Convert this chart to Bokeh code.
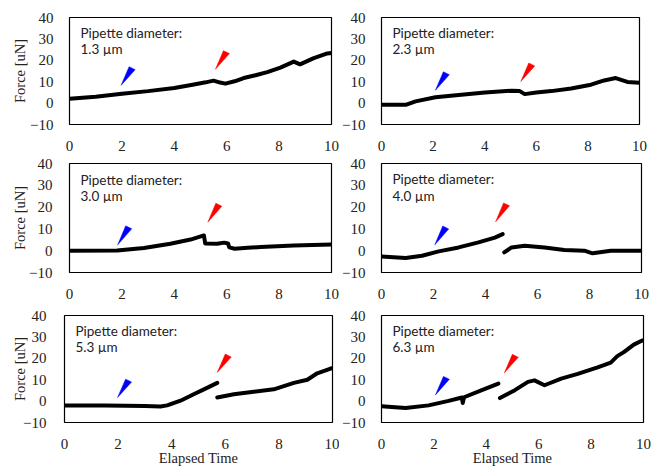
from bokeh.plotting import figure
from bokeh.models import Range1d, FixedTicker, Label
from bokeh.layouts import column, row
from bokeh.embed import file_html
from bokeh.resources import INLINE

# ---------------- data ----------------
diameters = ["1.3", "2.3", "3.0", "4.0", "5.3", "6.3"]
x_ticks = [0, 2, 4, 6, 8, 10]
y_ticks = [-10, 0, 10, 20, 30, 40]

# panel 1 (1.3 um)
t1 = [0, 1, 2, 3, 4, 4.75, 5.2, 5.5, 5.75, 5.95, 6.3, 6.65, 7.1, 7.55, 8.05, 8.56, 8.8, 9.3, 9.84, 10]
f1 = [2.0, 3.0, 4.4, 5.6, 7.1, 8.7, 9.7, 10.5, 9.6, 9.1, 10.2, 11.7, 13.0, 14.5, 16.6, 19.4, 18.1, 20.9, 23.2, 23.4]

# panel 2 (2.3 um)
t2 = [0, 0.94, 1.32, 2.09, 2.99, 4.01, 5.04, 5.36, 5.55, 6.0, 6.58, 7.35, 8.12, 8.63, 9.08, 9.53, 10]
f2 = [-0.8, -0.8, 0.8, 2.7, 3.8, 5.0, 5.8, 5.6, 4.2, 5.0, 5.6, 6.8, 8.6, 10.6, 11.7, 9.9, 9.5]

# panel 3 (3.0 um)
t3 = [0, 1.82, 2.84, 3.85, 4.62, 5.13, 5.18, 5.64, 5.9, 6.05, 6.1, 6.3, 6.8, 7.29, 8.56, 10]
f3 = [0.0, 0.1, 1.2, 3.2, 5.1, 7.0, 3.3, 3.2, 3.7, 3.3, 1.5, 0.9, 1.3, 1.7, 2.4, 2.8]

# panel 4 (4.0 um), two segments
t4a = [0, 0.93, 1.56, 2.2, 2.97, 3.73, 4.36, 4.66]
f4a = [-2.7, -3.3, -2.3, -0.3, 1.5, 3.8, 6.0, 7.6]
t4b = [4.72, 5.0, 5.51, 6.27, 7.03, 7.8, 8.12, 8.82, 9.96, 10]
f4b = [-0.8, 1.5, 2.3, 1.5, 0.3, 0.0, -1.2, 0.0, 0.0, 0.0]

# panel 5 (5.3 um), two segments
t5a = [0, 1.5, 3.0, 3.58, 3.83, 4.33, 4.82, 5.32, 5.7]
f5a = [-2.0, -2.0, -2.3, -2.5, -2.0, 0.2, 3.2, 6.2, 8.5]
t5b = [5.7, 6.32, 7.06, 7.81, 8.56, 9.06, 9.43, 9.93, 10]
f5b = [1.7, 3.2, 4.4, 5.5, 8.5, 10.0, 13.0, 15.2, 15.4]

# panel 6 (6.3 um), two segments
t6a = [0, 0.92, 1.8, 2.56, 3.07, 3.1, 3.15, 3.83, 4.46]
f6a = [-2.4, -3.2, -2.0, 0.1, 1.7, -0.9, 1.8, 5.1, 8.2]
t6b = [4.52, 5.09, 5.59, 5.84, 6.22, 6.86, 7.49, 8.25, 8.75, 9.0, 9.25, 9.63, 9.95, 10]
f6b = [1.4, 5.1, 9.0, 9.7, 7.4, 10.5, 12.7, 15.8, 18.0, 21.0, 22.9, 26.4, 28.3, 28.3]

segments = [
    [(t1, f1)],
    [(t2, f2)],
    [(t3, f3)],
    [(t4a, f4a), (t4b, f4b)],
    [(t5a, f5a), (t5b, f5b)],
    [(t6a, f6a), (t6b, f6b)],
]

# arrow tips (data coordinates)
blue_t = [1.97, 2.09, 1.84, 2.05, 1.98, 2.06]
blue_f = [8.3, 6.0, 2.7, 2.7, 1.7, 2.9]
red_t = [5.57, 5.40, 5.28, 4.39, 5.70, 4.69]
red_f = [15.8, 10.1, 13.1, 13.3, 13.4, 13.2]

# ---------------- layout (pixels) ----------------
# width, height, border left, right, top, bottom, ytick standoff, ylabel standoff
geo = [
    (339, 155, 69, 8, 15, 31, 10, -1),
    (322, 155, 40, 22, 17, 28, 10, 0),
    (339, 150, 69, 8, 8, 33, 11, -2),
    (322, 150, 40, 20, 7, 33, 10, 0),
    (339, 163, 64, 7, 10, 42, 12, -8),
    (322, 163, 40, 18, 10, 43, 10, 0),
]

SERIF = "Liberation Serif"
SANS = "Lato"
TXT = "#222222"

# arrow shape in screen pixels relative to tip (x right, y up)
ARROW = [(0, 0), (8, 19), (14, 16)]

figs = []
for i in range(6):
    w, h, bl, br, bt, bb, ystand, lstand = geo[i]
    fw = w - bl - br
    fh = h - bt - bb
    p = figure(width=w, height=h, output_backend="svg", toolbar_location=None,
               x_range=Range1d(0, 10), y_range=Range1d(-10, 40),
               min_border_left=bl, min_border_right=br,
               min_border_top=bt, min_border_bottom=bb)
    p.xgrid.visible = False
    p.ygrid.visible = False
    p.outline_line_color = "black"
    p.outline_line_width = 1.2
    p.background_fill_color = "white"
    p.border_fill_color = "white"

    for ax in (p.xaxis[0], p.yaxis[0]):
        ax.axis_line_color = None
        ax.major_tick_line_color = None
        ax.minor_tick_line_color = None
        ax.major_label_text_font = SERIF
        ax.major_label_text_font_size = "15px"
        ax.major_label_text_color = TXT
        ax.axis_label_text_font = SERIF
        ax.axis_label_text_font_size = "14.5px"
        ax.axis_label_text_font_style = "normal"
        ax.axis_label_text_color = TXT
    p.xaxis.ticker = FixedTicker(ticks=x_ticks)
    p.yaxis.ticker = FixedTicker(ticks=y_ticks)
    p.yaxis.major_label_standoff = ystand
    p.xaxis.major_label_standoff = 10

    if i % 2 == 0:
        p.yaxis.axis_label = "Force [uN]"
        p.yaxis.axis_label_standoff = lstand
    if i >= 4:
        p.xaxis.axis_label = "Elapsed Time"
        p.xaxis.axis_label_standoff = -2

    for (tx, fy) in segments[i]:
        p.line(tx, fy, line_color="black", line_width=4, line_join="round", line_cap="round")

    sx = fw / 10.0
    sy = fh / 50.0
    for (tt, ff, col) in ((blue_t[i], blue_f[i], "#0000FF"), (red_t[i], red_f[i], "#FF0000")):
        xs = [tt + dx / sx for dx, dy in ARROW]
        ys = [ff + dy / sy for dx, dy in ARROW]
        p.patch(xs, ys, fill_color=col, line_color=col, line_width=0.5)

    y1 = 40 - 16.0 / sy
    y2 = 40 - 32.5 / sy
    x0 = 11.0 / sx
    p.add_layout(Label(x=x0, y=y1, text="Pipette diameter:", text_baseline="middle",
                       text_font=SANS, text_font_size="13.5px", text_color=TXT))
    p.add_layout(Label(x=x0, y=y2, text=diameters[i] + " µm", text_baseline="middle",
                       text_font=SANS, text_font_size="13.5px", text_color=TXT))
    figs.append(p)

layout = column(row(figs[0], figs[1]), row(figs[2], figs[3]), row(figs[4], figs[5]))

open("out.html", "w").write(file_html(layout, INLINE))
